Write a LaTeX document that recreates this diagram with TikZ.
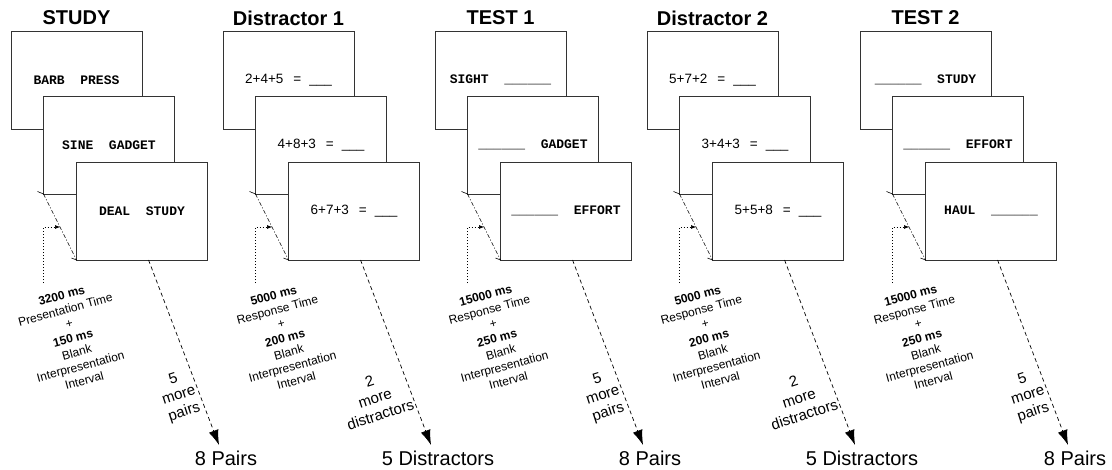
\documentclass[tikz,border=0pt]{standalone}
\usepackage{fontspec}
\setmainfont{Liberation Sans}
\newfontfamily\wordfont{Liberation Mono}
\usetikzlibrary{arrows.meta,positioning,calc}
\tikzset{
  slide/.style={draw=black!80, line width=0.9pt, fill=white, anchor=north west, minimum width=131pt, minimum height=98pt, inner sep=0pt, outer sep=0pt},
  word/.style={font=\wordfont\bfseries\fontsize{13}{15}\selectfont},
  sumtext/.style={font=\fontsize{13.5}{15}\selectfont},
  phasetitle/.style={font=\bfseries\fontsize{20}{24}\selectfont},
  totallabel/.style={font=\fontsize{20}{24}\selectfont},
  timing/.style={align=center, rotate=15, inner sep=0pt, font=\fontsize{12}{14.7}\selectfont},
  more/.style={align=center, rotate=18, inner sep=0pt, font=\fontsize{15}{17.5}\selectfont},
  flowarrow/.style={dash pattern=on 4pt off 3pt, line width=0.7pt, -{Latex[length=15pt,width=10pt]}},
  gapline/.style={dash pattern=on 4pt off 2pt on 1pt off 2pt, line width=0.6pt},
  gaptick/.style={line width=0.6pt},
  cueline/.style={dash pattern=on 1.5pt off 1.5pt, line width=0.6pt, -{Latex[length=5pt,width=4pt]}}
}
\newcommand{\longblank}{\_\_\_\_\_\_}
\newcommand{\wsep}{\hspace{15.6pt}}
\newcommand{\eqsum}[1]{#1\hspace{10pt}=\hspace{8pt}\_\_\_}

\begin{document}
\begin{tikzpicture}[x=1pt, y=-1pt]
  \fill[white] (0,0) rectangle (1112,469);
  % tilted timing and count labels
  \node[timing] (t1) at (73,338) {\textbf{3200 ms}\\Presentation Time\\+\\\textbf{150 ms}\\Blank\\Interpresentation\\Interval};
  \node[timing] (t2) at (285,338) {\textbf{5000 ms}\\Response Time\\+\\\textbf{200 ms}\\Blank\\Interpresentation\\Interval};
  \node[timing] (t3) at (497,338) {\textbf{15000 ms}\\Response Time\\+\\\textbf{250 ms}\\Blank\\Interpresentation\\Interval};
  \node[timing] (t4) at (709,338) {\textbf{5000 ms}\\Response Time\\+\\\textbf{200 ms}\\Blank\\Interpresentation\\Interval};
  \node[timing] (t5) at (922,338) {\textbf{15000 ms}\\Response Time\\+\\\textbf{250 ms}\\Blank\\Interpresentation\\Interval};
  \node[more] (n1) at (179,396) {5\\more\\pairs};
  \node[more] (n2) at (375,398) {2\\more\\distractors};
  \node[more] (n3) at (603,396) {5\\more\\pairs};
  \node[more] (n4) at (799,398) {2\\more\\distractors};
  \node[more] (n5) at (1028,396) {5\\more\\pairs};
  % STUDY
  \begin{scope}[xshift=11pt]
    \node[phasetitle] (ttl1) at (65.5,18) {STUDY};
    \node[slide, word] (s1a) at (0,31) {BARB\wsep PRESS};
    \node[slide, word] (s1b) at (32.5,96) {SINE\wsep GADGET};
    \node[slide, word] (s1c) at (65.5,162) {DEAL\wsep STUDY};
    \node[totallabel] (tot1) at (215,458) {8 Pairs};
    \draw[gapline] (s1b.south west) -- coordinate[pos=0.5] (m1) (s1c.south west);
    \draw[gaptick] (s1b.south west) -- ++(-6,-2.5);
    \draw[gaptick] (s1c.south west) -- ++(-5,-2);
    \coordinate (c1) at (32.5,283);
    \draw[cueline] (c1) |- (m1);
    \coordinate (f1) at ($(s1c.south west)!0.55!(s1c.south east)$);
    \coordinate (e1) at (208,445);
    \draw[flowarrow] (f1) -- (e1);
  \end{scope}
  % Distractor 1
  \begin{scope}[xshift=223pt]
    \node[phasetitle] (ttl2) at (65.5,18) {Distractor 1};
    \node[slide, sumtext] (s2a) at (0,31) {\eqsum{2+4+5}};
    \node[slide, sumtext] (s2b) at (32.5,96) {\eqsum{4+8+3}};
    \node[slide, sumtext] (s2c) at (65.5,162) {\eqsum{6+7+3}};
    \node[totallabel] (tot2) at (215,458) {5 Distractors};
    \draw[gapline] (s2b.south west) -- coordinate[pos=0.5] (m2) (s2c.south west);
    \draw[gaptick] (s2b.south west) -- ++(-6,-2.5);
    \draw[gaptick] (s2c.south west) -- ++(-5,-2);
    \coordinate (c2) at (32.5,283);
    \draw[cueline] (c2) |- (m2);
    \coordinate (f2) at ($(s2c.south west)!0.55!(s2c.south east)$);
    \coordinate (e2) at (208,445);
    \draw[flowarrow] (f2) -- (e2);
  \end{scope}
  % TEST 1
  \begin{scope}[xshift=435pt]
    \node[phasetitle] (ttl3) at (65.5,18) {TEST 1};
    \node[slide, word] (s3a) at (0,31) {SIGHT\wsep\longblank};
    \node[slide, word] (s3b) at (32.5,96) {\longblank\wsep GADGET};
    \node[slide, word] (s3c) at (65.5,162) {\longblank\wsep EFFORT};
    \node[totallabel] (tot3) at (215,458) {8 Pairs};
    \draw[gapline] (s3b.south west) -- coordinate[pos=0.5] (m3) (s3c.south west);
    \draw[gaptick] (s3b.south west) -- ++(-6,-2.5);
    \draw[gaptick] (s3c.south west) -- ++(-5,-2);
    \coordinate (c3) at (32.5,283);
    \draw[cueline] (c3) |- (m3);
    \coordinate (f3) at ($(s3c.south west)!0.55!(s3c.south east)$);
    \coordinate (e3) at (208,445);
    \draw[flowarrow] (f3) -- (e3);
  \end{scope}
  % Distractor 2
  \begin{scope}[xshift=647pt]
    \node[phasetitle] (ttl4) at (65.5,18) {Distractor 2};
    \node[slide, sumtext] (s4a) at (0,31) {\eqsum{5+7+2}};
    \node[slide, sumtext] (s4b) at (32.5,96) {\eqsum{3+4+3}};
    \node[slide, sumtext] (s4c) at (65.5,162) {\eqsum{5+5+8}};
    \node[totallabel] (tot4) at (215,458) {5 Distractors};
    \draw[gapline] (s4b.south west) -- coordinate[pos=0.5] (m4) (s4c.south west);
    \draw[gaptick] (s4b.south west) -- ++(-6,-2.5);
    \draw[gaptick] (s4c.south west) -- ++(-5,-2);
    \coordinate (c4) at (32.5,283);
    \draw[cueline] (c4) |- (m4);
    \coordinate (f4) at ($(s4c.south west)!0.55!(s4c.south east)$);
    \coordinate (e4) at (208,445);
    \draw[flowarrow] (f4) -- (e4);
  \end{scope}
  % TEST 2
  \begin{scope}[xshift=860pt]
    \node[phasetitle] (ttl5) at (65.5,18) {TEST 2};
    \node[slide, word] (s5a) at (0,31) {\longblank\wsep STUDY};
    \node[slide, word] (s5b) at (32.5,96) {\longblank\wsep EFFORT};
    \node[slide, word] (s5c) at (65.5,162) {HAUL\wsep\longblank};
    \node[totallabel] (tot5) at (215,458) {8 Pairs};
    \draw[gapline] (s5b.south west) -- coordinate[pos=0.5] (m5) (s5c.south west);
    \draw[gaptick] (s5b.south west) -- ++(-6,-2.5);
    \draw[gaptick] (s5c.south west) -- ++(-5,-2);
    \coordinate (c5) at (32.5,283);
    \draw[cueline] (c5) |- (m5);
    \coordinate (f5) at ($(s5c.south west)!0.55!(s5c.south east)$);
    \coordinate (e5) at (208,445);
    \draw[flowarrow] (f5) -- (e5);
  \end{scope}
\end{tikzpicture}
\end{document}
